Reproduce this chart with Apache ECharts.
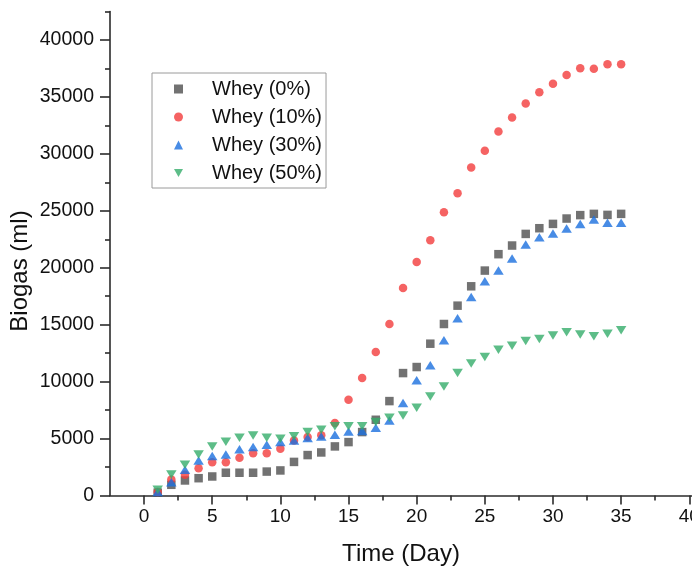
<!DOCTYPE html>
<html>
<head>
<meta charset="utf-8">
<script src="https://cdn.jsdelivr.net/npm/echarts@6/dist/echarts.min.js"></script>
<style>
html,body{margin:0;padding:0;background:#fff;}
#c{width:692px;height:569px;}
</style>
</head>
<body>
<div id="c"></div>
<script>
const days = [1,2,3,4,5,6,7,8,9,10,11,12,13,14,15,16,17,18,19,20,21,22,23,24,25,26,27,28,29,30,31,32,33,34,35];
const whey0 = [250,940,1320,1520,1670,2000,2000,2000,2100,2200,2950,3550,3780,4310,4690,5570,6650,8290,10750,11280,13330,15060,16670,18370,19750,21190,21950,22970,23470,23850,24320,24620,24730,24640,24730];
const whey10 = [300,1400,1820,2400,2930,2930,3310,3720,3720,4100,4840,5130,5300,6360,8410,10310,12600,15060,18230,20510,22420,24880,26550,28800,30270,31970,33200,34430,35400,36160,36920,37510,37480,37860,37860];
const whey30 = [300,1170,2260,3080,3460,3600,4070,4250,4450,4690,4840,5040,5190,5330,5630,5660,5950,6590,8120,10110,11440,13630,15560,17440,18810,19750,20800,22050,22680,23000,23440,23850,24230,23940,23940];
const whey50 = [500,1850,2700,3600,4300,4720,5070,5270,5070,4980,5200,5570,5770,6070,6070,6070,6450,6830,7030,7710,8700,9580,10750,11580,12160,12800,13160,13570,13750,14040,14330,14130,13980,14210,14500];
const seriesNames = ['Whey (0%)','Whey (10%)','Whey (30%)','Whey (50%)'];
const xTicks = [0,5,10,15,20,25,30,35,40];
const xMinorTicks = [2.5,7.5,12.5,17.5,22.5,27.5,32.5,37.5];
const yTicks = [0,5000,10000,15000,20000,25000,30000,35000,40000];
const yMinorTicks = [2500,7500,12500,17500,22500,27500,32500,37500,42500];
const xTitle = 'Time (Day)';
const yTitle = 'Biogas (ml)';

const FONT = '"Liberation Sans", Arial, sans-serif';
const colors = ['#4f4f4f','#F23C3C','#1A6FDF','#35AC6A'];
const pair = arr => days.map((d,i)=>[d,arr[i]]);
const plain = v => String(v);

const axisLineStyle = {color:'#2b2b2b', width:1.6};
const chart = echarts.init(document.getElementById('c'), null, {renderer:'canvas'});
chart.setOption({
  animation:false,
  backgroundColor:'#fff',
  grid:{left:110, right:0, top:11.5, bottom:73.5, containLabel:false, outerBoundsMode:'none'},
  xAxis:[{
    type:'value', min:-2.5, max:40.2,
    axisLine:{show:true, onZero:false, lineStyle:axisLineStyle},
    axisTick:{show:true, inside:false, length:9, customValues:xTicks, lineStyle:axisLineStyle},
    axisLabel:{show:true, customValues:xTicks, formatter:plain, margin:12, fontSize:19, color:'#111', fontFamily:FONT},
    splitLine:{show:false},
    name:xTitle, nameLocation:'middle', nameGap:47,
    nameTextStyle:{fontSize:24, color:'#111', fontFamily:FONT}
  },{
    type:'value', min:-2.5, max:40.2, position:'bottom', offset:0,
    axisLine:{show:false, onZero:false},
    axisTick:{show:true, inside:false, length:5, customValues:xMinorTicks, lineStyle:axisLineStyle},
    axisLabel:{show:false},
    splitLine:{show:false}
  }],
  yAxis:[{
    type:'value', min:0, max:42500,
    axisLine:{show:true, onZero:false, lineStyle:axisLineStyle},
    axisTick:{show:true, inside:false, length:10, customValues:yTicks, lineStyle:axisLineStyle},
    axisLabel:{show:true, customValues:yTicks, formatter:plain, margin:16, fontSize:19.5, color:'#111', fontFamily:FONT},
    splitLine:{show:false}
  },{
    type:'value', min:0, max:42500, position:'left', offset:0,
    axisLine:{show:false, onZero:false},
    axisTick:{show:true, inside:false, length:5, customValues:yMinorTicks, lineStyle:axisLineStyle},
    axisLabel:{show:false},
    splitLine:{show:false}
  }],
  legend:{
    orient:'vertical', left:152, top:73,
    borderColor:'#9a9a9a', borderWidth:1,
    padding:[6,4,5,22], itemGap:8, itemWidth:9, itemHeight:9,
    textStyle:{fontSize:20, lineHeight:20, color:'#111', fontFamily:FONT, padding:[0,0,0,24]},
    data:[
      {name:seriesNames[0], icon:'rect'},
      {name:seriesNames[1], icon:'circle'},
      {name:seriesNames[2], icon:'triangle'},
      {name:seriesNames[3], icon:'path://M0,0 L10,0 L5,9 Z'}
    ]
  },
  graphic:[{
    type:'text', x:20, y:271, rotation:Math.PI/2,
    style:{text:yTitle, font:'24px ' + FONT, fill:'#111', align:'center', verticalAlign:'middle'}
  }],
  series:[
    {name:seriesNames[0], type:'scatter', data:pair(whey0), symbol:'rect', symbolSize:8.5, itemStyle:{color:colors[0]}},
    {name:seriesNames[1], type:'scatter', data:pair(whey10), symbol:'circle', symbolSize:8.5, itemStyle:{color:colors[1]}},
    {name:seriesNames[2], type:'scatter', data:pair(whey30), symbol:'triangle', symbolSize:[10.5,8.5], itemStyle:{color:colors[2]}},
    {name:seriesNames[3], type:'scatter', data:pair(whey50), symbol:'triangle', symbolRotate:180, symbolSize:[10.5,8.5], itemStyle:{color:colors[3]}}
  ]
});
</script>
</body>
</html>
